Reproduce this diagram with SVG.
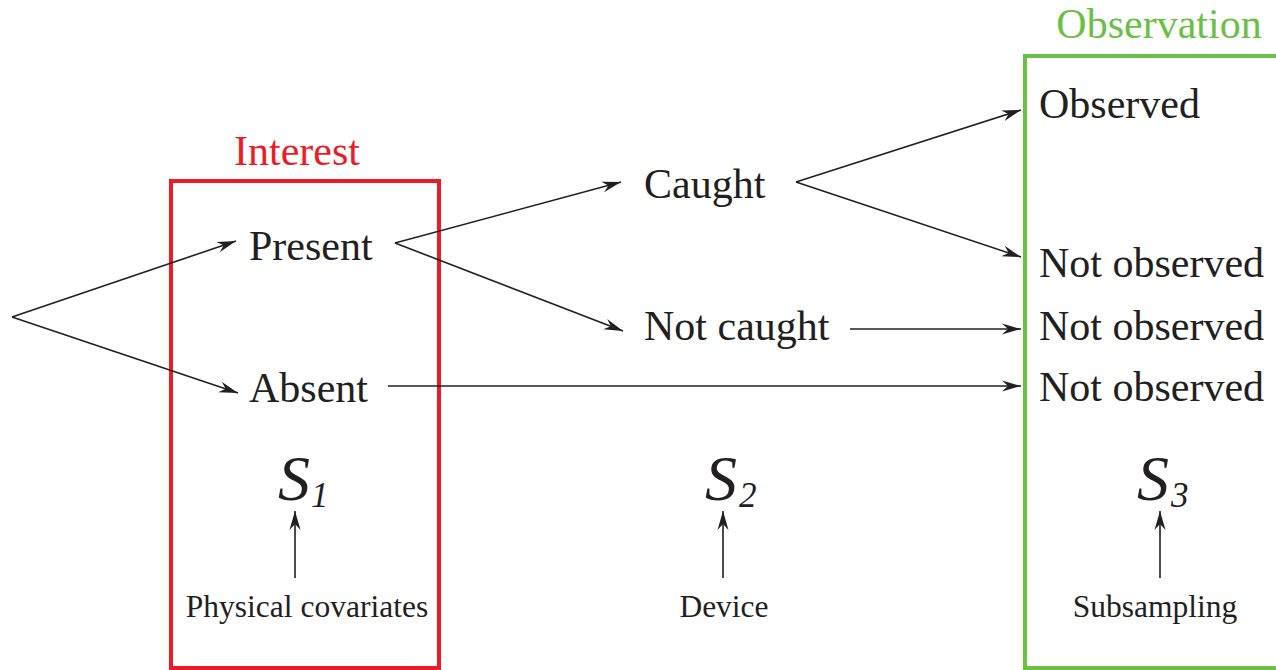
<svg xmlns="http://www.w3.org/2000/svg" width="1276" height="670" viewBox="0 0 1276 670">
<style>
.t{font-family:"Liberation Serif","Times New Roman",serif;fill:#231f20}
.big{font-size:42px}
.small{font-size:31.5px}
.s{font-size:64px;font-style:italic}
.sub{font-size:35px;font-style:italic}
.c{stroke:#231f20;stroke-width:1.6;fill:none}
</style>
<defs>
<marker id="ah" markerUnits="userSpaceOnUse" markerWidth="24" markerHeight="14" viewBox="-20 -7 22 14" refX="0" refY="0" orient="auto">
<path d="M0,0 L-19,-5.5 L-13,0 L-19,5.5 Z" fill="#231f20"/>
</marker>
</defs>
<rect width="1276" height="670" fill="#fff"/>
<g id="interest-box">
<rect x="171" y="181" width="268" height="487" fill="none" stroke="#ed1c24" stroke-width="4"/>
<text x="297" y="165" text-anchor="middle" class="big" style="font-family:'Liberation Serif','Times New Roman',serif;fill:#ed1c24">Interest</text>
</g>
<g id="observation-box">
<path d="M1290,56 L1025,56 L1025,668 L1290,668" fill="none" stroke="#6abf45" stroke-width="4"/>
<text x="1159" y="38" text-anchor="middle" class="big" style="font-family:'Liberation Serif','Times New Roman',serif;fill:#6abf45">Observation</text>
</g>
<g id="connectors">
<line class="c" x1="12" y1="317" x2="236" y2="241" marker-end="url(#ah)"/>
<line class="c" x1="12" y1="317" x2="238" y2="393" marker-end="url(#ah)"/>
<line class="c" x1="395" y1="243" x2="621" y2="182" marker-end="url(#ah)"/>
<line class="c" x1="395" y1="243" x2="623" y2="331" marker-end="url(#ah)"/>
<line class="c" x1="796" y1="182" x2="1021" y2="110" marker-end="url(#ah)"/>
<line class="c" x1="796" y1="182" x2="1021" y2="257" marker-end="url(#ah)"/>
<line class="c" x1="850" y1="329" x2="1021" y2="329" marker-end="url(#ah)"/>
<line class="c" x1="388" y1="386" x2="1021" y2="386" marker-end="url(#ah)"/>
<line class="c" x1="295" y1="578" x2="295" y2="511" marker-end="url(#ah)"/>
<line class="c" x1="723" y1="578" x2="723" y2="511" marker-end="url(#ah)"/>
<line class="c" x1="1160" y1="578" x2="1160" y2="511" marker-end="url(#ah)"/>
</g>
<g id="present"><text x="249" y="260" class="t big">Present</text></g>
<g id="absent"><text x="249" y="402" class="t big">Absent</text></g>
<g id="caught"><text x="644" y="198" class="t big">Caught</text></g>
<g id="not-caught"><text x="644" y="340" class="t big">Not caught</text></g>
<g id="observed"><text x="1039" y="118" class="t big">Observed</text></g>
<g id="not-observed-1"><text x="1039" y="277" class="t big">Not observed</text></g>
<g id="not-observed-2"><text x="1039" y="340" class="t big">Not observed</text></g>
<g id="not-observed-3"><text x="1039" y="401" class="t big">Not observed</text></g>
<g id="s1"><text x="278" y="500" class="t s">S</text><text x="311" y="507" class="t sub">1</text></g>
<g id="s2"><text x="705" y="500" class="t s">S</text><text x="739" y="507" class="t sub">2</text></g>
<g id="s3"><text x="1137" y="500" class="t s">S</text><text x="1171" y="507" class="t sub">3</text></g>
<g id="physical-covariates"><text x="307" y="617" text-anchor="middle" class="t small">Physical covariates</text></g>
<g id="device"><text x="724" y="617" text-anchor="middle" class="t small">Device</text></g>
<g id="subsampling"><text x="1155" y="617" text-anchor="middle" class="t small">Subsampling</text></g>
</svg>
